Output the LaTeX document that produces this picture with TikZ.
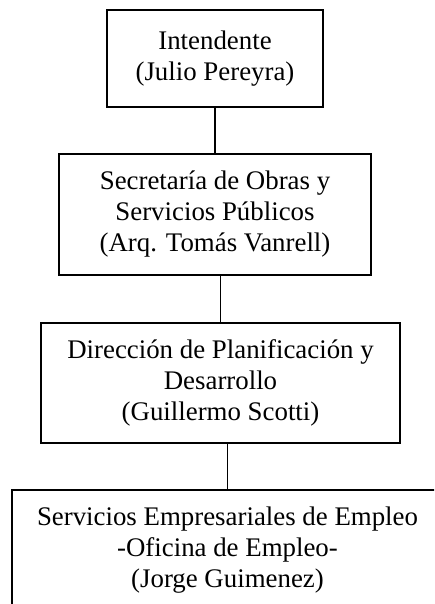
\documentclass[tikz,border=0pt]{standalone}
\usepackage{fontspec}
\setmainfont{Liberation Serif}
\begin{document}
\begin{tikzpicture}[x=1pt,y=1pt,
  orgbox/.style={draw, line width=1.8pt, align=center, inner sep=0pt,
    font=\fontsize{26.85}{31}\selectfont},
  link/.style={line width=1.6pt}]
\useasboundingbox (0,0) rectangle (434,-604);
\clip (0,0) rectangle (434,-604);
\node[orgbox, minimum width=216, minimum height=97] (b1) at (215,-58.5)
  {Intendente\\(Julio Pereyra)};
\node[orgbox, minimum width=312, minimum height=121] (b2) at (215,-214.5)
  {Secretaría de Obras y\\Servicios Públicos\\(Arq. Tomás Vanrell)};
\node[orgbox, minimum width=359, minimum height=120] (b3) at (220.5,-383)
  {Dirección de Planificación y\\Desarrollo\\(Guillermo Scotti)};
\node[orgbox, minimum width=431, minimum height=120] (b4) at (227.5,-550)
  {Servicios Empresariales de Empleo\\-Oficina de Empleo-\\(Jorge Guimenez)};
\draw[link] (b1.south) -- (b1.south |- b2.north);
\draw[link] (b3.north) -- (b3.north |- b2.south);
\draw[link] (b4.north) -- (b4.north |- b3.south);
\end{tikzpicture}
\end{document}
